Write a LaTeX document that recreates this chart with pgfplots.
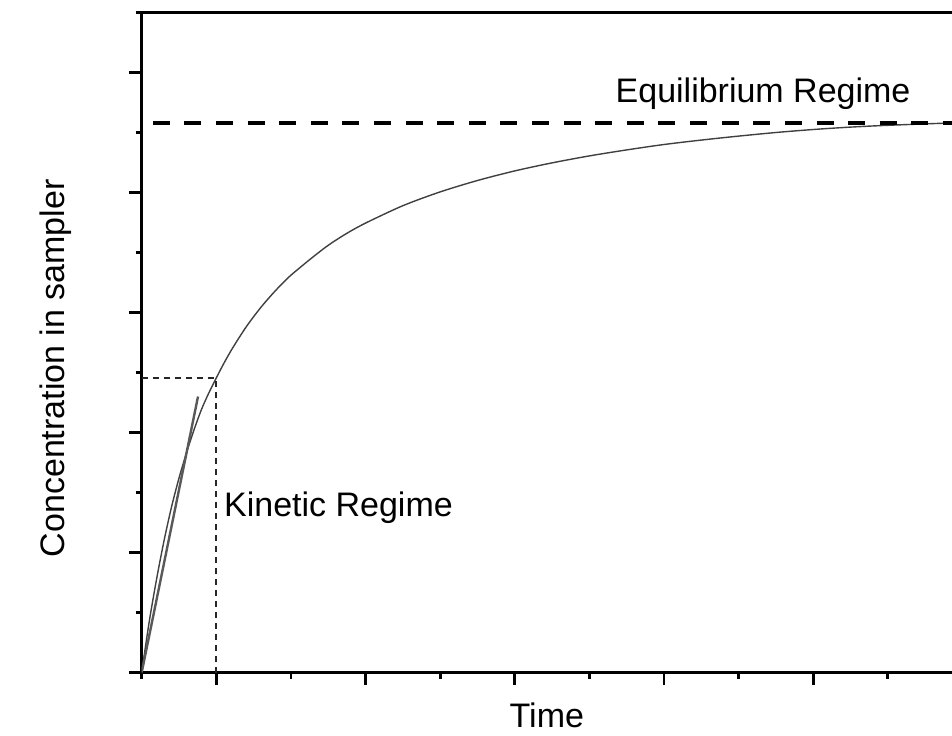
\documentclass[border=0pt]{standalone}
\usepackage{fontspec}
\setmainfont{Liberation Sans}
\usepackage{pgfplots}
\pgfplotsset{compat=1.18}
\begin{document}
\begin{tikzpicture}
\begin{axis}[
  at={(0,0)}, anchor=origin,
  scale only axis, width=405.15pt, height=330pt,
  xmin=0, xmax=10.86, ymin=0, ymax=5.5,
  axis x line*=box, axis y line*=left,
  axis line style={line width=1.4pt, black},
  xtick={1,3,5,7,9}, minor xtick={0,2,4,6,8,10},
  ytick={0,1,2,3,4,5}, minor ytick={0.5,1.5,2.5,3.5,4.5,5.5},
  xticklabels={}, yticklabels={},
  xtick pos=bottom, ytick pos=left,
  tick align=outside,
  major tick length=6.3pt, minor tick length=3pt,
  every tick/.style={line width=1.4pt, black},
  clip mode=individual,
  xlabel={Time}, ylabel={Concentration in sampler},
  label style={font=\fontsize{17}{20}\selectfont},
  xlabel style={at={(axis description cs:0.5,0)}, anchor=base, yshift=-27.3pt},
  ylabel style={at={(axis description cs:0,0.461)}, anchor=base, rotate=0, yshift=38.5pt},
]
% main uptake curve
\addplot[line width=0.7pt, color=black!75, smooth] coordinates {
(0,0) (0.1,0.42) (0.2,0.78) (0.3,1.10) (0.4,1.38) (0.5,1.62) (0.6,1.83)
(0.7,2.02) (0.8,2.19) (0.9,2.33) (1.0,2.455) (1.1,2.575) (1.2,2.685) (1.3,2.785) (1.4,2.88)
(1.5,2.965) (1.6,3.045) (1.7,3.118) (1.8,3.187) (1.9,3.251) (2.0,3.311) (2.25,3.44) (2.5,3.56) (2.75,3.66) (3.0,3.745) (3.5,3.89)
(4.0,4.005) (4.5,4.10) (5.0,4.18) (5.5,4.247) (6.0,4.305) (6.5,4.355) (7.0,4.40) (7.5,4.437) (8.0,4.47)
(8.5,4.50) (9.0,4.525) (9.5,4.545) (10.0,4.56) (10.86,4.58)
};
% initial slope line
\addplot[line width=1.2pt, color=black!65] coordinates {(0,0) (0.755,2.30)};
% kinetic regime guides
\addplot[line width=0.9pt, color=black!85, dash pattern=on 3pt off 2.5pt] coordinates {(0,2.455) (1.0,2.455)};
\addplot[line width=0.9pt, color=black!85, dash pattern=on 3pt off 2.5pt] coordinates {(1.0,0) (1.0,2.455)};
% equilibrium line
\addplot[line width=1.6pt, color=black, dash pattern=on 8.5pt off 7.3pt] coordinates {(0.15,4.58) (10.86,4.58)};
\node[anchor=base west, inner sep=0pt, font=\fontsize{17}{20}\selectfont] at (axis cs:1.10,1.304) {Kinetic Regime};
\node[anchor=base west, inner sep=0pt, font=\fontsize{17}{20}\selectfont] at (axis cs:6.347,4.748) {Equilibrium Regime};
\end{axis}
\pgfresetboundingbox
\useasboundingbox (-70.85pt,-31.25pt) rectangle (405.15pt,336.25pt);
\end{tikzpicture}
\end{document}
